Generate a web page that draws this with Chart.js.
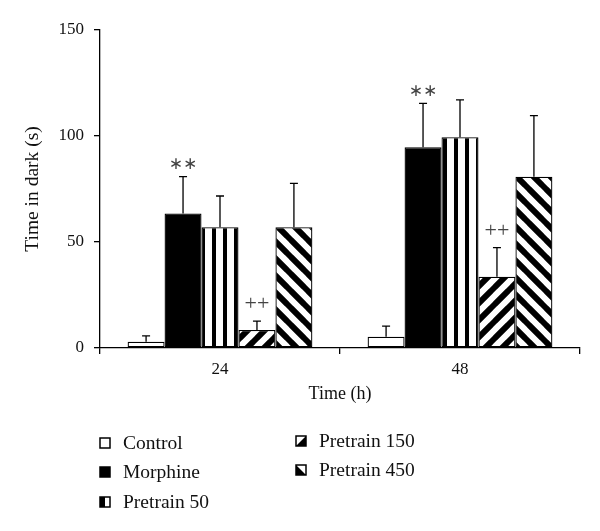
<!DOCTYPE html>
<html lang="en">
<head>
<meta charset="UTF-8">
<title>Time in dark</title>
<script src="https://cdn.jsdelivr.net/npm/chart.js"></script>
<style>
    body { margin: 0; background: #fff; }
    #box { width: 600px; height: 531px; }
</style>
</head>
<body>
<div id="box"><canvas id="grafico" width="600" height="531"></canvas></div>
<script>
    // dados
    const groups = ['24', '48'];
    const series = ['Control', 'Morphine', 'Pretrain 50', 'Pretrain 150', 'Pretrain 450'];
    const control = [3, 5.3];
    const controlErr = [2.7, 5];
    const morphine = [63.5, 94.7];
    const morphineErr = [17.3, 20.7];
    const pre50 = [57, 99.4];
    const pre50Err = [14.7, 17.6];
    const pre150 = [8.5, 33.6];
    const pre150Err = [4.2, 13.7];
    const pre450 = [57, 80.8];
    const pre450Err = [20.7, 28.8];
    const morphineMarks = ['**', '**'];
    const pre150Marks = ['++', '++'];
    const yTicks = [0, 50, 100, 150];

    const FONT = '"Liberation Serif", "DejaVu Serif", serif';

    function stripes(kind) {
        const c = document.createElement('canvas');
        const ctx = c.getContext('2d');
        if (kind === 'v') {
            c.width = 11; c.height = 11;
            ctx.fillStyle = '#fff'; ctx.fillRect(0, 0, 11, 11);
            ctx.fillStyle = '#000'; ctx.fillRect(3, 0, 4, 11);
        } else {
            const s = 17;
            c.width = s; c.height = s;
            ctx.fillStyle = '#fff'; ctx.fillRect(0, 0, s, s);
            ctx.strokeStyle = '#000'; ctx.lineWidth = 6;
            ctx.beginPath();
            if (kind === '/') {
                ctx.moveTo(-2, 2); ctx.lineTo(2, -2);
                ctx.moveTo(0, s); ctx.lineTo(s, 0);
                ctx.moveTo(s - 2, s + 2); ctx.lineTo(s + 2, s - 2);
            } else {
                ctx.moveTo(-2, s - 2); ctx.lineTo(2, s + 2);
                ctx.moveTo(0, 0); ctx.lineTo(s, s);
                ctx.moveTo(s - 2, -2); ctx.lineTo(s + 2, 2);
            }
            ctx.stroke();
        }
        return c.getContext('2d').createPattern(c, 'repeat');
    }

    const fills = ['#fff', '#000', stripes('v'), stripes('/'), stripes('\\')];
    const values = [control, morphine, pre50, pre150, pre450];
    const errs = [controlErr, morphineErr, pre50Err, pre150Err, pre450Err];
    const marks = [null, morphineMarks, null, pre150Marks, null];

    const datasets = series.map(function (nome, i) {
        return {
            label: nome,
            data: values[i],
            err: errs[i],
            marks: marks[i],
            backgroundColor: fills[i],
            borderColor: '#000',
            borderWidth: 1.3,
            borderSkipped: false
        };
    });

    // barras de erro e asteriscos
    const erroPlugin = {
        id: 'erro',
        afterDatasetsDraw(chart) {
            const ctx = chart.ctx;
            const y = chart.scales.y;
            ctx.save();
            chart.data.datasets.forEach(function (ds, i) {
                const meta = chart.getDatasetMeta(i);
                meta.data.forEach(function (bar, j) {
                    const top = y.getPixelForValue(ds.data[j] + ds.err[j]);
                    ctx.strokeStyle = '#000';
                    ctx.lineWidth = 1.3;
                    ctx.beginPath();
                    ctx.moveTo(bar.x, bar.y);
                    ctx.lineTo(bar.x, top);
                    ctx.moveTo(bar.x - 4, top);
                    ctx.lineTo(bar.x + 4, top);
                    ctx.stroke();
                    if (ds.marks && ds.marks[j]) {
                        const estrela = ds.marks[j] === '**';
                        ctx.fillStyle = '#444';
                        ctx.textAlign = 'center';
                        ctx.textBaseline = 'middle';
                        ctx.font = estrela ? '17px "DejaVu Sans", sans-serif' : '22px ' + FONT;
                        ctx.fillText(estrela ? '\u2217\u2217' : '++', bar.x, top - (estrela ? 12 : 17));
                    }
                });
            });
            ctx.restore();
        }
    };

    // legenda em duas colunas
    const legendaPlugin = {
        id: 'legenda',
        afterDraw(chart) {
            const ctx = chart.ctx;
            const pos = [[100, 443], [100, 472], [100, 502], [296, 441], [296, 470]];
            ctx.save();
            chart.data.datasets.forEach(function (ds, i) {
                const x = pos[i][0], cy = pos[i][1], s = 10;
                const t = cy - s / 2;
                ctx.fillStyle = '#fff';
                ctx.fillRect(x, t, s, s);
                ctx.fillStyle = '#000';
                ctx.beginPath();
                if (i === 1) ctx.rect(x, t, s, s);
                if (i === 2) ctx.rect(x, t, s / 2, s);
                if (i === 3) { ctx.moveTo(x, t + s); ctx.lineTo(x + s, t); ctx.lineTo(x + s, t + s); }
                if (i === 4) { ctx.moveTo(x, t); ctx.lineTo(x + s, t + s); ctx.lineTo(x, t + s); }
                ctx.fill();
                ctx.strokeStyle = '#000';
                ctx.lineWidth = 1.5;
                ctx.strokeRect(x, t, s, s);
                ctx.fillStyle = '#111';
                ctx.font = '19.5px ' + FONT;
                ctx.textAlign = 'left';
                ctx.textBaseline = 'middle';
                ctx.fillText(ds.label, x + 23, cy + 1);
            });
            ctx.restore();
        }
    };

    new Chart(document.getElementById('grafico'), {
        type: 'bar',
        data: { labels: groups, datasets: datasets },
        plugins: [erroPlugin, legendaPlugin],
        options: {
            responsive: false,
            animation: false,
            layout: { padding: { left: 0, top: 30, right: 20, bottom: 126 } },
            datasets: { bar: { categoryPercentage: 0.77, barPercentage: 1 } },
            plugins: { legend: { display: false }, tooltip: { enabled: false } },
            scales: {
                x: {
                    afterFit: function (s) { s.height = 57; },
                    grid: { drawOnChartArea: false, color: '#000', tickLength: 6, lineWidth: 1.3 },
                    border: { color: '#000', width: 1.3 },
                    ticks: { color: '#111', padding: 5, font: { family: FONT, size: 17 } },
                    title: { display: true, text: 'Time (h)', color: '#111', padding: 0, font: { family: FONT, size: 18 } }
                },
                y: {
                    min: 0,
                    max: 150,
                    afterFit: function (s) { s.width = 100; },
                    afterBuildTicks: function (s) { s.ticks = yTicks.map(function (v) { return { value: v }; }); },
                    grid: { drawOnChartArea: false, color: '#000', tickLength: 6, lineWidth: 1.3 },
                    border: { color: '#000', width: 1.3 },
                    ticks: { color: '#111', padding: 10, font: { family: FONT, size: 17 } },
                    title: { display: true, text: 'Time in dark (s)', color: '#111', padding: { top: 21, bottom: 0 }, font: { family: FONT, size: 19.5 } }
                }
            }
        }
    });
</script>
</body>
</html>
